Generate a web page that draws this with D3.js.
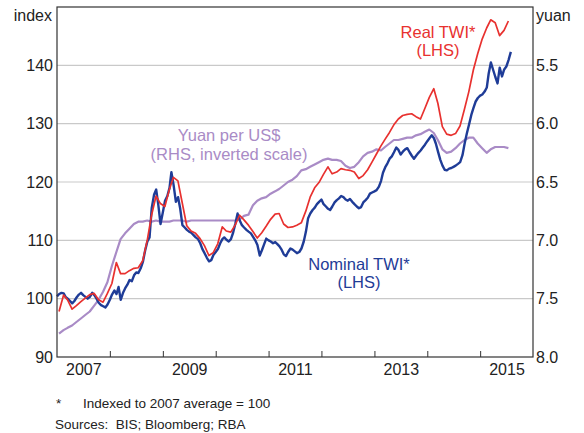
<!DOCTYPE html>
<html>
<head>
<meta charset="utf-8">
<script src="https://cdn.jsdelivr.net/npm/d3@7"></script>
<style>
  html, body { margin: 0; padding: 0; background: #fff; }
  svg { display: block; font-family: Arial, "Liberation Sans", sans-serif; }
</style>
</head>
<body>
<svg id="chart" width="584" height="433"></svg>
<script>
// Nominal TWI, index (2007 average = 100), twice-monthly (1st and 16th), Jan 2007 – Aug 2015
const nominalTwi = [
  100.4, 100.8, 101.0, 100.9, 100.3, 100.0, 99.6, 99.2, 99.6, 100.2, 100.7, 101.0, 100.6, 100.3, 100.0, 100.3, 101.0, 100.6, 100.0, 99.3, 98.9, 98.7, 98.5, 99.0,
  99.8, 100.7, 101.4, 100.8, 102.0, 99.8, 101.0, 101.8, 102.4, 103.2, 103.0, 104.0, 104.5, 104.4, 105.2, 106.3, 108.3, 109.8, 110.5, 115.5, 117.8, 118.7, 116.0, 112.8,
  114.8, 116.8, 117.6, 119.0, 121.7, 119.5, 116.6, 117.4, 115.4, 112.6, 112.2, 111.8, 111.5, 111.3, 110.9, 110.5, 110.2, 109.5, 108.5, 107.8, 107.0, 106.4, 106.6, 107.5,
  108.0, 108.5, 109.5, 110.2, 110.5, 110.1, 109.8, 110.2, 111.3, 112.8, 114.6, 113.4, 112.6, 112.2, 111.8, 111.5, 111.2, 110.6, 110.0, 109.2, 107.4, 108.3, 109.3, 110.3,
  110.0, 109.8, 109.5, 109.7, 109.4, 109.0, 108.4, 107.6, 107.3, 108.0, 108.6, 108.4, 108.1, 107.8, 108.0, 108.6, 109.8, 111.5, 113.8, 114.6, 115.2, 115.6, 116.2, 116.6,
  117.0, 116.2, 115.8, 115.4, 115.2, 115.8, 116.5, 116.9, 117.2, 117.6, 117.4, 117.0, 116.8, 117.1, 116.6, 116.2, 115.8, 115.5, 115.7, 116.5, 116.9, 117.3, 118.0, 118.2,
  118.4, 118.6, 119.2, 120.2, 121.6, 122.5, 123.2, 124.0, 124.4, 125.1, 125.9, 125.5, 124.7, 125.2, 125.6, 125.8, 125.1, 124.5, 124.0, 124.5, 125.0, 125.4, 125.9, 126.4,
  127.0, 127.5, 128.0, 127.5, 126.6, 125.2, 123.8, 122.8, 122.1, 122.0, 122.3, 122.4, 122.6, 122.8, 123.1, 123.4, 124.6, 126.6, 128.3, 129.8, 131.5, 132.7, 133.8, 134.4,
  134.8, 135.0, 135.5, 136.2, 138.6, 140.5, 139.2, 138.0, 136.9, 139.6, 138.1, 139.3, 139.8, 140.9, 142.3
];

// Real TWI, index (2007 average = 100), monthly, Jan 2007 – Jul 2015
const realTwi = [
  97.8, 100.6, 99.8, 98.2, 98.8, 99.5, 100.1, 100.7, 100.9, 99.8, 99.4, 100.9,
  102.6, 106.2, 104.3, 104.3, 104.8, 105.2, 105.3, 106.5, 110.0, 114.3, 117.6, 116.3,
  115.8, 118.7, 120.8, 120.2, 116.4, 112.5, 111.6, 111.2, 110.3, 109.1, 107.4, 107.9,
  109.4, 112.3, 111.6, 111.4, 112.6, 114.3, 113.5, 112.6, 111.5, 110.4, 111.3, 112.4,
  113.6, 114.5, 114.6, 112.8, 112.2, 112.3, 112.6, 113.0, 115.0, 117.4, 119.0, 119.9,
  121.3, 122.6, 121.4, 121.7, 122.3, 122.1, 122.0, 121.7, 120.6, 121.1, 122.1, 123.4,
  124.8, 126.2, 127.3, 128.5, 129.8, 130.8, 131.4, 131.6, 131.7, 131.2, 130.8, 132.6,
  134.5, 136.0, 133.5, 129.5, 128.2, 128.0, 128.3, 129.6, 132.5, 135.5, 139.2, 142.0,
  144.5, 146.4, 147.8, 147.3, 145.1, 146.0, 147.6
];

// Yuan per US dollar, monthly, Jan 2007 – Jul 2015
const yuanPerUsd = [
  7.80, 7.77, 7.75, 7.73, 7.70, 7.67, 7.64, 7.61, 7.56, 7.51, 7.44, 7.36,
  7.22, 7.10, 6.99, 6.94, 6.90, 6.86, 6.84, 6.84, 6.83, 6.84, 6.83, 6.84,
  6.84, 6.84, 6.83, 6.83, 6.83, 6.84, 6.83, 6.83, 6.83, 6.83, 6.83, 6.83,
  6.83, 6.83, 6.83, 6.83, 6.83, 6.82, 6.79, 6.78, 6.70, 6.66, 6.64, 6.63,
  6.60, 6.58, 6.56, 6.53, 6.50, 6.48, 6.45, 6.40, 6.39, 6.37, 6.35, 6.33,
  6.31, 6.30, 6.31, 6.31, 6.32, 6.36, 6.38, 6.37, 6.33, 6.28, 6.25, 6.24,
  6.22, 6.23, 6.20, 6.17, 6.14, 6.14, 6.13, 6.12, 6.12, 6.10, 6.09, 6.07,
  6.05, 6.08, 6.14, 6.22, 6.25, 6.24, 6.21, 6.17, 6.14, 6.12, 6.12, 6.17,
  6.21, 6.25, 6.22, 6.20, 6.20, 6.20, 6.21
];

// Axis ticks
const leftTicks = [90, 100, 110, 120, 130, 140];
const rightTicks = [5.5, 6.0, 6.5, 7.0, 7.5, 8.0];
const gridTicks = [100, 110, 120, 130, 140];
const yearLabels = [2007, 2009, 2011, 2013, 2015];

const startYear = 2007, endYear = 2016;
const halfMonthDate = k => new Date(startYear, Math.floor(k / 2), k % 2 ? 16 : 1);
const midMonthDate = i => new Date(startYear, i, 15);

const nominalData = nominalTwi.map((v, k) => ({ date: halfMonthDate(k), value: v }));
const realData = realTwi.map((v, i) => ({ date: midMonthDate(i), value: v }));
const yuanData = yuanPerUsd.map((v, i) => ({ date: midMonthDate(i), value: v }));

const plot = { left: 57, right: 533, top: 7, bottom: 357 };
const colors = { red: "#e8312f", blue: "#1f3c97", purple: "#a98bc6", axis: "#333", grid: "#c9c9c9", text: "#222" };

const svg = d3.select("#chart");

const x = d3.scaleTime()
  .domain([new Date(startYear, 0, 1), new Date(endYear, 0, 1)])
  .range([plot.left, plot.right]);
const yL = d3.scaleLinear().domain([90, 150]).range([plot.bottom, plot.top]);
const yR = d3.scaleLinear().domain([5, 8]).range([plot.top, plot.bottom]); // inverted

// Gridlines
svg.append("g")
  .selectAll("line")
  .data(gridTicks)
  .join("line")
  .attr("x1", plot.left).attr("x2", plot.right)
  .attr("y1", d => yL(d)).attr("y2", d => yL(d))
  .attr("stroke", colors.grid).attr("stroke-width", 1.2);

// Left axis
const leftAxis = svg.append("g")
  .attr("transform", `translate(${plot.left},0)`)
  .call(d3.axisLeft(yL).tickValues(leftTicks).tickSize(0).tickPadding(4).tickFormat(d3.format("d")));
leftAxis.select(".domain").remove();
leftAxis.selectAll("text").attr("font-size", 16).attr("fill", colors.text).attr("font-family", null);

// Right axis
const rightAxis = svg.append("g")
  .attr("transform", `translate(${plot.right},0)`)
  .call(d3.axisRight(yR).tickValues(rightTicks).tickSize(0).tickPadding(3).tickFormat(d3.format(".1f")));
rightAxis.select(".domain").remove();
rightAxis.selectAll("text").attr("font-size", 16).attr("fill", colors.text).attr("font-family", null);

// Year tick marks (inside the frame)
const tickAxis = svg.append("g")
  .attr("transform", `translate(0,${plot.bottom})`)
  .call(d3.axisBottom(x)
    .tickValues(d3.range(startYear + 1, endYear).map(yr => new Date(yr, 0, 1)))
    .tickSize(-6).tickFormat(""));
tickAxis.select(".domain").remove();
tickAxis.selectAll("line").attr("stroke", colors.axis);

// Year labels, centred on each year
const labelAxis = svg.append("g")
  .attr("transform", `translate(0,${plot.bottom})`)
  .call(d3.axisBottom(x)
    .tickValues(yearLabels.map(yr => new Date(yr, 6, 2)))
    .tickSize(0).tickPadding(7).tickFormat(d3.timeFormat("%Y")));
labelAxis.select(".domain").remove();
labelAxis.selectAll("text").attr("font-size", 16).attr("fill", colors.text).attr("font-family", null);

// Unit labels
svg.append("text").attr("x", 52).attr("y", 21).attr("text-anchor", "end")
  .attr("font-size", 16).attr("fill", colors.text).text("index");
svg.append("text").attr("x", 536).attr("y", 21).attr("text-anchor", "start")
  .attr("font-size", 16).attr("fill", colors.text).text("yuan");

// Series lines
const lineL = d3.line().x(d => x(d.date)).y(d => yL(d.value));
const lineR = d3.line().x(d => x(d.date)).y(d => yR(d.value));

svg.append("path").datum(yuanData)
  .attr("d", lineR).attr("fill", "none")
  .attr("stroke", colors.purple).attr("stroke-width", 2.2).attr("stroke-linejoin", "round");

svg.append("path").datum(nominalData)
  .attr("d", lineL).attr("fill", "none")
  .attr("stroke", colors.blue).attr("stroke-width", 2.4).attr("stroke-linejoin", "round");

svg.append("path").datum(realData)
  .attr("d", lineL).attr("fill", "none")
  .attr("stroke", colors.red).attr("stroke-width", 1.7).attr("stroke-linejoin", "round");

// Frame
svg.append("rect")
  .attr("x", plot.left).attr("y", plot.top)
  .attr("width", plot.right - plot.left).attr("height", plot.bottom - plot.top)
  .attr("fill", "none").attr("stroke", colors.axis).attr("stroke-width", 1.2);

// Series labels
function seriesLabel(lines, cx, y0, dy, color) {
  const t = svg.append("text").attr("text-anchor", "middle").attr("font-size", 16.5).attr("fill", color);
  lines.forEach((s, i) => t.append("tspan").attr("x", cx).attr("y", y0 + i * dy).text(s));
}
seriesLabel(["Real TWI*", "(LHS)"], 438, 38, 18, colors.red);
seriesLabel(["Yuan per US$", "(RHS, inverted scale)"], 229, 141, 19, colors.purple);
seriesLabel(["Nominal TWI*", "(LHS)"], 359, 270, 18, colors.blue);

// Notes
svg.append("text").attr("x", 56).attr("y", 408).attr("font-size", 13.5).attr("fill", colors.text).text("*");
svg.append("text").attr("x", 83).attr("y", 408).attr("font-size", 13.5).attr("fill", colors.text)
  .text("Indexed to 2007 average = 100");
svg.append("text").attr("x", 55).attr("y", 429).attr("font-size", 13.5).attr("fill", colors.text)
  .attr("xml:space", "preserve").style("white-space", "pre")
  .text("Sources:  BIS; Bloomberg; RBA");
</script>
</body>
</html>
